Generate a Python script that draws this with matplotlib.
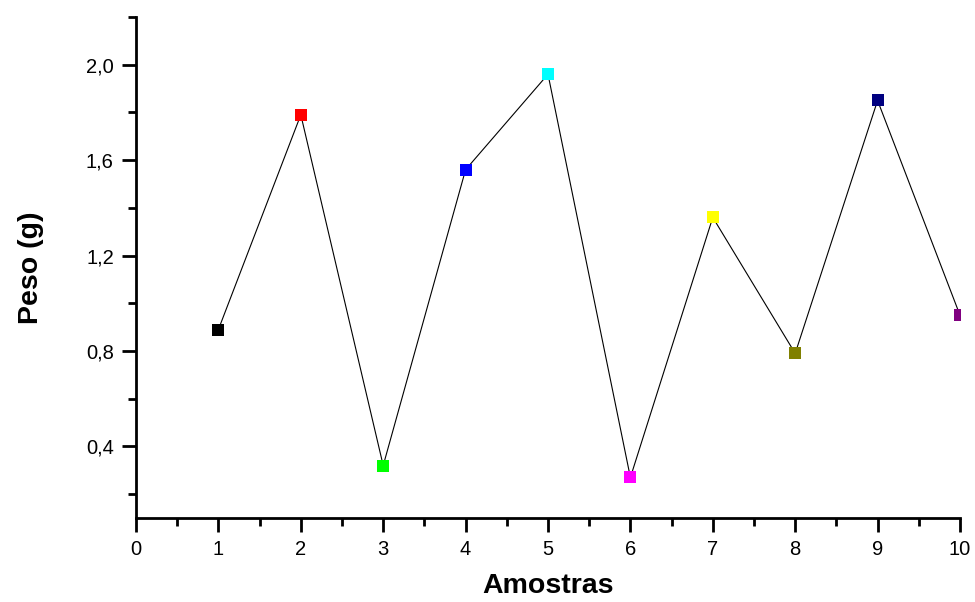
import matplotlib
matplotlib.use("Agg")
import matplotlib.pyplot as plt
from matplotlib.ticker import MultipleLocator, FuncFormatter

amostras = [1, 2, 3, 4, 5, 6, 7, 8, 9, 10]
peso = [0.89, 1.79, 0.32, 1.56, 1.96, 0.27, 1.36, 0.79, 1.85, 0.95]
cores = ["#000000", "#ff0000", "#00ff00", "#0000ff", "#00ffff",
         "#ff00ff", "#ffff00", "#808000", "#000080", "#800080"]

plt.rcParams["font.family"] = ["Liberation Sans", "DejaVu Sans"]

fig = plt.figure(figsize=(9.75, 6.02), dpi=100)
ax = fig.add_axes([0.1395, 0.1395, 0.8451, 0.8323])

ax.plot(amostras, peso, color="black", linewidth=0.8, zorder=2)
for x, y, c in zip(amostras, peso, cores):
    ax.plot(x, y, marker="s", markersize=8, color=c, linestyle="none",
            markeredgewidth=0, zorder=3)

ax.set_xlim(0, 10)
ax.set_ylim(0.1, 2.2)

ax.xaxis.set_major_locator(MultipleLocator(1))
ax.xaxis.set_minor_locator(MultipleLocator(0.5))
ax.set_yticks([0.4, 0.8, 1.2, 1.6, 2.0])
ax.set_yticks([0.2, 0.6, 1.0, 1.4, 1.8, 2.2], minor=True)
ax.yaxis.set_major_formatter(FuncFormatter(lambda v, p: f"{v:.1f}".replace(".", ",")))

for side in ("top", "right"):
    ax.spines[side].set_visible(False)
for side in ("left", "bottom"):
    ax.spines[side].set_linewidth(2)

ax.tick_params(which="major", direction="out", length=10, width=2,
               labelsize=14.5, pad=6)
ax.tick_params(which="minor", direction="out", length=6, width=2)

ax.set_xlabel("Amostras", fontsize=20.5, fontweight="bold", labelpad=10)
ax.set_ylabel("Peso (g)", fontsize=20.5, fontweight="bold", labelpad=30)

fig.savefig("out.png", dpi=100)
